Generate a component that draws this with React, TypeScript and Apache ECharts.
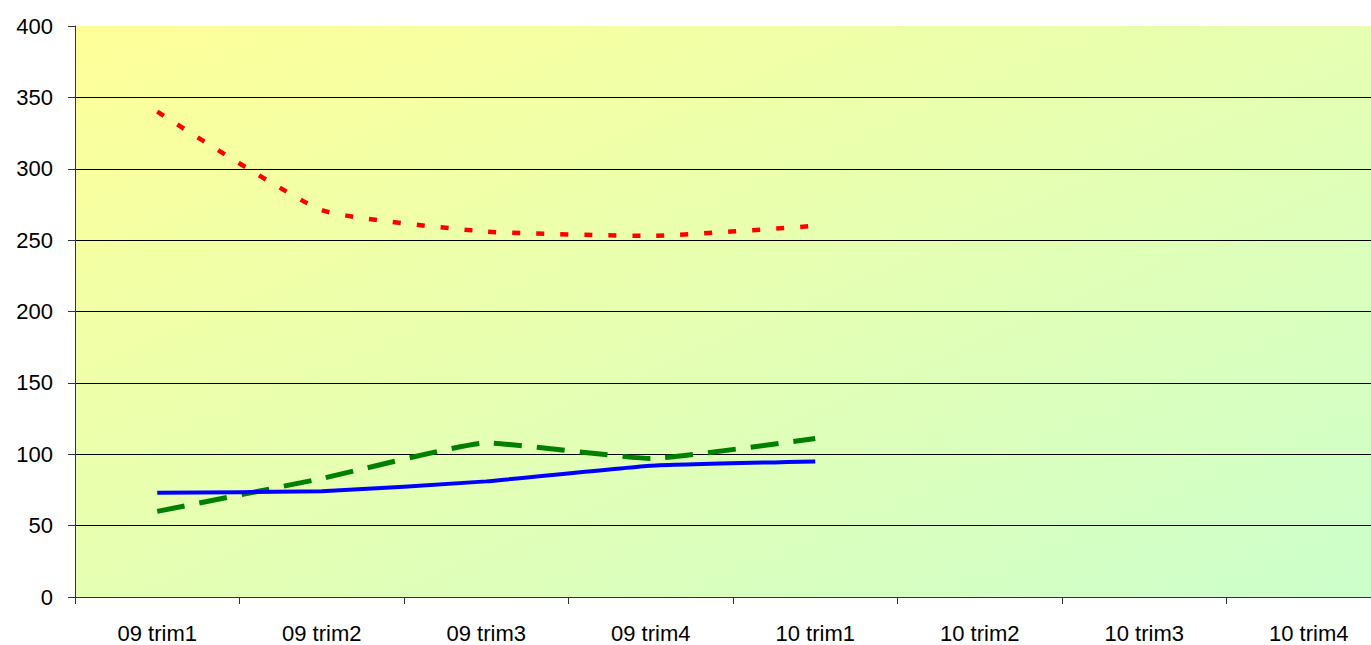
import React, { useEffect, useRef } from "react";
import * as echarts from "echarts";

const categories = ["09 trim1", "09 trim2", "09 trim3", "09 trim4", "10 trim1", "10 trim2", "10 trim3", "10 trim4"];
const redSeries = [340, 271, 256, 253, 260, null, null, null];
const greenSeries = [60, 83, 108, 97, 111, null, null, null];
const blueSeries = [73, 74, 81, 92, 95, null, null, null];
const yTicks = { min: 0, max: 400, interval: 50 };

export default function App() {
  const ref = useRef<HTMLDivElement>(null);
  useEffect(() => {
    if (!ref.current) return;
    const chart = echarts.init(ref.current, null, { renderer: "svg" });
    const font = "'Liberation Sans', Arial, sans-serif";
    const splitColors = ["#000", "#000", "#000", "#000", "#000", "#000", "#000", "#000", "rgba(0,0,0,0)"];
    chart.setOption({
      animation: false,
      grid: {
        left: 75,
        top: 26,
        width: 1316,
        height: 571,
        show: true,
        borderWidth: 0,
        backgroundColor: new echarts.graphic.LinearGradient(0, 0, 1, 1, [
          { offset: 0, color: "#FFFF99" },
          { offset: 1, color: "#CCFFCC" },
        ]),
      },
      xAxis: {
        type: "category",
        data: categories,
        boundaryGap: true,
        axisLine: { show: true, lineStyle: { color: "#333", width: 1 } },
        axisTick: { show: true, length: 7, lineStyle: { color: "#333" } },
        axisLabel: { color: "#000", fontSize: 22, fontFamily: font, margin: 25 },
        splitLine: { show: false },
      },
      yAxis: {
        type: "value",
        min: yTicks.min,
        max: yTicks.max,
        interval: yTicks.interval,
        axisLine: { show: true, lineStyle: { color: "#333", width: 1 } },
        axisTick: { show: true, length: 7, inside: false, lineStyle: { color: "#333" } },
        axisLabel: { color: "#000", fontSize: 22, fontFamily: font, margin: 22 },
        splitLine: { show: true, lineStyle: { color: splitColors, width: 1 } },
      },
      series: [
        {
          type: "line",
          data: redSeries,
          smooth: 0.15,
          symbol: "none",
          lineStyle: { color: "#FF0000", width: 4.5, type: [8, 16] },
        },
        {
          type: "line",
          data: greenSeries,
          smooth: 0.12,
          symbol: "none",
          lineStyle: { color: "#008000", width: 5, type: [28, 15] },
        },
        {
          type: "line",
          data: blueSeries,
          smooth: 0.12,
          symbol: "none",
          lineStyle: { color: "#0000FF", width: 4 },
        },
      ],
    });
    return () => chart.dispose();
  }, []);
  return (
    <div style={{ position: "fixed", left: 0, top: 0, width: 1371, height: 645, overflow: "hidden", background: "#fff" }}>
      <div ref={ref} style={{ width: 1400, height: 645 }} />
    </div>
  );
}
